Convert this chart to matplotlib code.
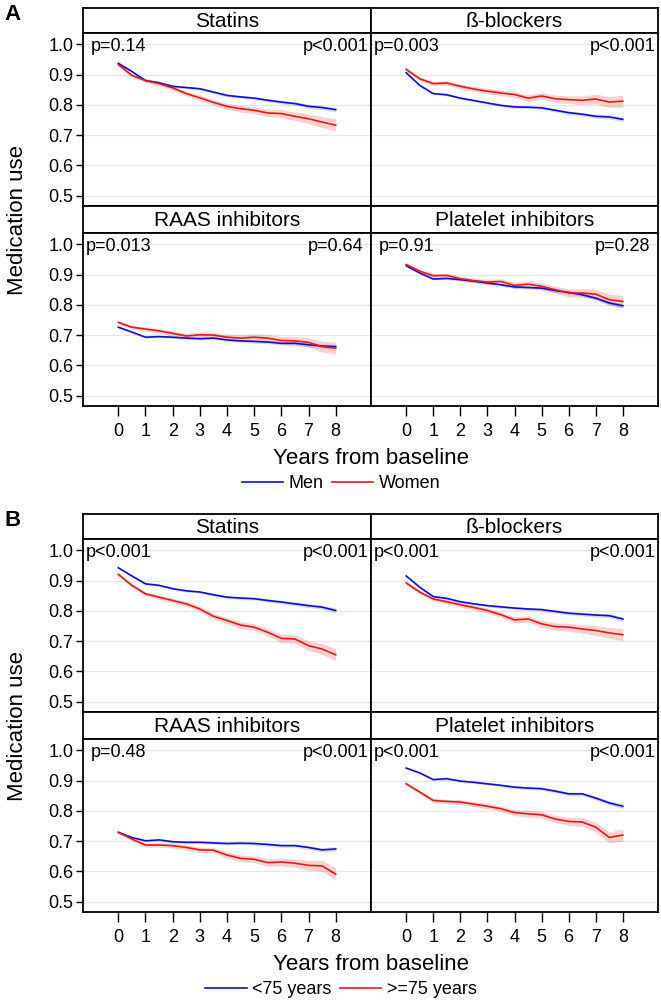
import numpy as np
import matplotlib.pyplot as plt
from matplotlib.lines import Line2D

plt.rcParams['font.family'] = ['Liberation Sans', 'DejaVu Sans']

W, H = 661, 1002

years = [0, 0.5, 1, 1.5, 2, 2.5, 3, 3.5, 4, 4.5, 5, 5.5, 6, 6.5, 7, 7.5, 8]
meds = ["Statins", "ß-blockers", "RAAS inhibitors", "Platelet inhibitors"]

# panel A: sex
a_men = {
    "Statins": [0.937, 0.910, 0.880, 0.873, 0.861, 0.857, 0.853, 0.842, 0.831, 0.826, 0.822, 0.815, 0.809, 0.804, 0.795, 0.791, 0.784],
    "ß-blockers": [0.906, 0.864, 0.837, 0.833, 0.822, 0.814, 0.806, 0.798, 0.793, 0.792, 0.790, 0.782, 0.774, 0.769, 0.762, 0.760, 0.752],
    "RAAS inhibitors": [0.726, 0.710, 0.693, 0.695, 0.693, 0.690, 0.688, 0.690, 0.684, 0.681, 0.679, 0.677, 0.673, 0.673, 0.668, 0.664, 0.662],
    "Platelet inhibitors": [0.929, 0.905, 0.885, 0.887, 0.883, 0.878, 0.872, 0.866, 0.859, 0.857, 0.855, 0.847, 0.841, 0.833, 0.822, 0.806, 0.797],
}
a_women = {
    "Statins": [0.933, 0.897, 0.880, 0.870, 0.856, 0.837, 0.823, 0.808, 0.795, 0.787, 0.782, 0.773, 0.771, 0.762, 0.754, 0.743, 0.733],
    "ß-blockers": [0.917, 0.886, 0.870, 0.872, 0.861, 0.852, 0.845, 0.839, 0.834, 0.822, 0.829, 0.820, 0.817, 0.815, 0.819, 0.809, 0.812],
    "RAAS inhibitors": [0.742, 0.726, 0.720, 0.714, 0.706, 0.697, 0.701, 0.700, 0.693, 0.690, 0.693, 0.690, 0.682, 0.681, 0.676, 0.662, 0.657],
    "Platelet inhibitors": [0.933, 0.911, 0.896, 0.897, 0.886, 0.880, 0.875, 0.877, 0.864, 0.868, 0.861, 0.850, 0.839, 0.839, 0.835, 0.817, 0.811],
}
a_pvals = {
    "Statins": ("p=0.14", "p<0.001"),
    "ß-blockers": ("p=0.003", "p<0.001"),
    "RAAS inhibitors": ("p=0.013", "p=0.64"),
    "Platelet inhibitors": ("p=0.91", "p=0.28"),
}

# panel B: age
b_young = {
    "Statins": [0.942, 0.915, 0.889, 0.884, 0.873, 0.866, 0.862, 0.853, 0.845, 0.842, 0.840, 0.834, 0.829, 0.823, 0.817, 0.812, 0.801],
    "ß-blockers": [0.915, 0.878, 0.847, 0.841, 0.830, 0.823, 0.817, 0.813, 0.809, 0.806, 0.804, 0.798, 0.792, 0.789, 0.786, 0.784, 0.773],
    "RAAS inhibitors": [0.729, 0.712, 0.701, 0.704, 0.698, 0.696, 0.696, 0.694, 0.692, 0.693, 0.692, 0.689, 0.685, 0.685, 0.679, 0.671, 0.674],
    "Platelet inhibitors": [0.941, 0.925, 0.903, 0.906, 0.898, 0.894, 0.889, 0.884, 0.878, 0.875, 0.873, 0.865, 0.856, 0.856, 0.842, 0.826, 0.815],
}
b_old = {
    "Statins": [0.920, 0.884, 0.856, 0.845, 0.834, 0.823, 0.806, 0.782, 0.768, 0.753, 0.746, 0.729, 0.709, 0.707, 0.685, 0.674, 0.655],
    "ß-blockers": [0.892, 0.862, 0.839, 0.830, 0.820, 0.811, 0.801, 0.787, 0.770, 0.773, 0.757, 0.748, 0.746, 0.740, 0.735, 0.727, 0.721],
    "RAAS inhibitors": [0.729, 0.707, 0.687, 0.687, 0.685, 0.679, 0.671, 0.670, 0.654, 0.643, 0.640, 0.629, 0.631, 0.627, 0.620, 0.618, 0.591],
    "Platelet inhibitors": [0.889, 0.862, 0.834, 0.831, 0.829, 0.822, 0.815, 0.807, 0.794, 0.790, 0.787, 0.773, 0.765, 0.763, 0.746, 0.712, 0.720],
}
b_pvals = {
    "Statins": ("p<0.001", "p<0.001"),
    "ß-blockers": ("p<0.001", "p<0.001"),
    "RAAS inhibitors": ("p=0.48", "p<0.001"),
    "Platelet inhibitors": ("p<0.001", "p<0.001"),
}

# half width of the confidence bands
ci_blue = [0.003, 0.003, 0.003, 0.004, 0.004, 0.004, 0.004, 0.005, 0.005, 0.005, 0.005, 0.006, 0.006, 0.006, 0.007, 0.007, 0.008]
ci_red = [0.006, 0.006, 0.007, 0.007, 0.008, 0.008, 0.009, 0.009, 0.010, 0.011, 0.011, 0.012, 0.013, 0.014, 0.016, 0.018, 0.020]

BLUE = '#1010c8'
RED = '#e41a1c'


def fx(x):
    return x / W


def rect(x0, y0, x1, y1):
    return [x0 / W, 1 - y1 / H, (x1 - x0) / W, (y1 - y0) / H]


def draw_panel(fig, top, letter, blue, red, pvals, labels):
    cols = [(83, 371), (371, 658)]
    rows = [(top, top + 25, top + 198), (top + 198, top + 225, top + 398)]
    for i, med in enumerate(meds):
        r, c = divmod(i, 2)
        x0, x1 = cols[c]
        s0, s1, p1 = rows[r]
        # strip
        sax = fig.add_axes(rect(x0, s0, x1, s1))
        sax.set_xticks([]); sax.set_yticks([])
        for sp in sax.spines.values():
            sp.set_linewidth(1.3)
        sax.text(0.5, 0.45, med, ha='center', va='center', fontsize=15)
        # plot
        ax = fig.add_axes(rect(x0, s1, x1, p1))
        ax.set_xlim(-1.3, 9.3)
        ax.set_ylim(0.466, 1.037)
        ax.set_yticks([0.5, 0.6, 0.7, 0.8, 0.9, 1.0])
        ax.yaxis.grid(True, color='#e6e6e6', lw=1)
        ax.set_axisbelow(True)
        for sp in ax.spines.values():
            sp.set_linewidth(1.3)
        y_b = np.array(blue[med]); y_r = np.array(red[med])
        ax.fill_between(years, y_b - np.array(ci_blue), y_b + np.array(ci_blue),
                        color=BLUE, alpha=0.15, lw=0)
        ax.fill_between(years, y_r - np.array(ci_red), y_r + np.array(ci_red),
                        color=RED, alpha=0.2, lw=0)
        ax.plot(years, y_b, color=BLUE, lw=1.2)
        ax.plot(years, y_r, color=RED, lw=1.2)
        ax.text(0, 0.993, pvals[med][0], ha='center', va='center', fontsize=13)
        ax.text(8, 0.993, pvals[med][1], ha='center', va='center', fontsize=13)
        if c == 0:
            ax.set_yticklabels(['0.5', '0.6', '0.7', '0.8', '0.9', '1.0'])
            ax.tick_params(axis='y', direction='out', length=5, width=1, labelsize=13, pad=2)
        else:
            ax.tick_params(axis='y', length=0, labelleft=False)
        if r == 1:
            ax.set_xticks(range(9))
            ax.tick_params(axis='x', direction='out', length=7, width=1, labelsize=13, pad=5)
        else:
            ax.set_xticks([])
    fig.text(fx(18), 1 - (top + 212) / H, 'Medication use', rotation=90,
             ha='center', va='center', fontsize=16)
    fig.text(fx(371), 1 - (top + 451) / H, 'Years from baseline',
             ha='center', va='center', fontsize=16)
    fig.text(fx(4), 1 - (top + 6) / H, letter, ha='left', va='center',
             fontsize=16, fontweight='bold')
    handles = [Line2D([], [], color=BLUE, lw=1.2), Line2D([], [], color=RED, lw=1.2)]
    fig.legend(handles, labels, loc='center', ncol=2, frameon=False,
               bbox_to_anchor=(fx(341), 1 - (top + 476) / H),
               fontsize=13, handlelength=2.3, handletextpad=0.3,
               columnspacing=0.45, borderpad=0)


fig = plt.figure(figsize=(W / 100, H / 100), dpi=100)
draw_panel(fig, 8, 'A', a_men, a_women, a_pvals, ['Men', 'Women'])
draw_panel(fig, 514, 'B', b_young, b_old, b_pvals, ['<75 years', '>=75 years'])
fig.savefig('out.png', dpi=100)
